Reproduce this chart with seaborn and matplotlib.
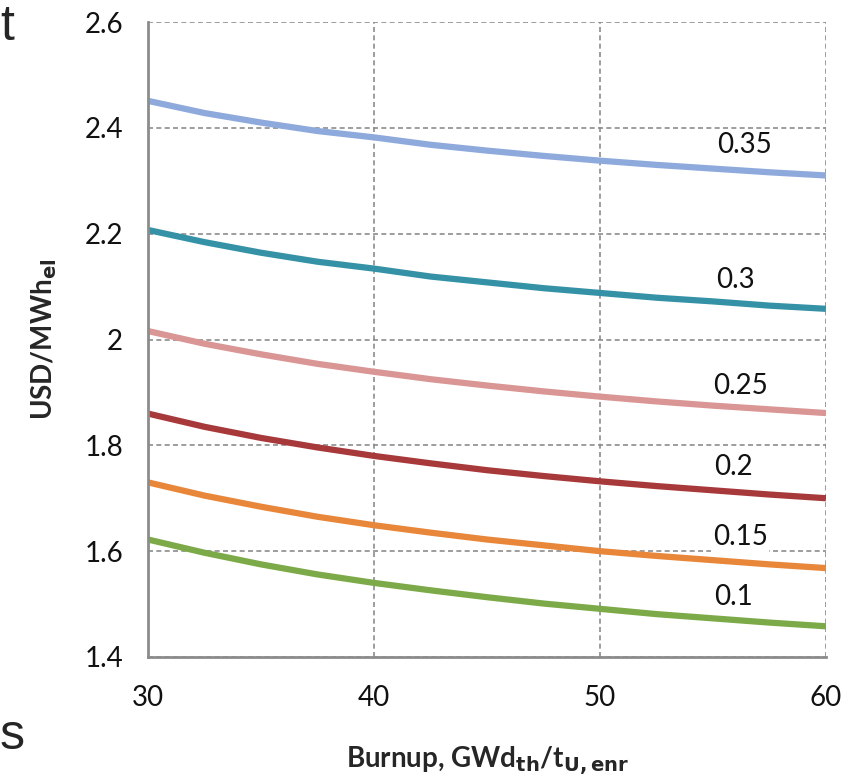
import numpy as np
import pandas as pd
import seaborn as sns
import matplotlib
matplotlib.use("Agg")
import matplotlib.pyplot as plt

# burnup, GWd/t
burnup = [30, 32.5, 35, 37.5, 40, 42.5, 45, 47.5, 50, 52.5, 55, 57.5, 60]

# cost curves, USD/MWh_el, one per parameter value
cost_035 = [2.451, 2.428, 2.410, 2.394, 2.382, 2.368, 2.357, 2.347, 2.338, 2.330, 2.323, 2.316, 2.310]
cost_030 = [2.207, 2.184, 2.164, 2.147, 2.134, 2.119, 2.108, 2.097, 2.088, 2.079, 2.072, 2.064, 2.058]
cost_025 = [2.016, 1.992, 1.972, 1.954, 1.939, 1.925, 1.913, 1.902, 1.892, 1.883, 1.875, 1.868, 1.861]
cost_020 = [1.860, 1.835, 1.814, 1.796, 1.780, 1.766, 1.753, 1.742, 1.732, 1.723, 1.715, 1.707, 1.700]
cost_015 = [1.730, 1.705, 1.684, 1.665, 1.649, 1.635, 1.622, 1.611, 1.600, 1.591, 1.583, 1.575, 1.568]
cost_010 = [1.622, 1.597, 1.575, 1.556, 1.540, 1.526, 1.513, 1.501, 1.491, 1.481, 1.473, 1.465, 1.458]

series_labels = ["0.35", "0.3", "0.25", "0.2", "0.15", "0.1"]
series_values = [cost_035, cost_030, cost_025, cost_020, cost_015, cost_010]
series_colors = ["#8EA9DB", "#3592A6", "#D99694", "#A8393B", "#E8863A", "#7DAA48"]

# where the curve labels sit (x, y in data units)
label_x = [56.4, 56.0, 56.2, 55.9, 56.2, 55.9]
label_y = [2.367, 2.112, 1.912, 1.759, 1.627, 1.513]

rows = []
for lab, vals in zip(series_labels, series_values):
    for x, v in zip(burnup, vals):
        rows.append({"burnup": x, "cost": v, "param": lab})
df = pd.DataFrame(rows)

sns.set_style("white")
plt.rcParams["font.family"] = ["Lato", "DejaVu Sans"]

fig = plt.figure(figsize=(8.51, 7.81), dpi=100)
ax = fig.add_axes([0.1739, 0.1588, 0.7967, 0.8130])

palette = dict(zip(series_labels, series_colors))
sns.lineplot(data=df, x="burnup", y="cost", hue="param", palette=palette,
             linewidth=4.5, legend=False, ax=ax)
for line in ax.lines:
    line.set_solid_capstyle("butt")

ax.set_xlim(30, 60)
ax.set_ylim(1.4, 2.6)
ax.set_xticks([30, 40, 50, 60])
ax.set_yticks([1.4, 1.6, 1.8, 2.0, 2.2, 2.4, 2.6])
ax.set_yticklabels(["1.4", "1.6", "1.8", "2", "2.2", "2.4", "2.6"])

ax.grid(True, linestyle=(0, (3, 2)), color="#8c8c8c", linewidth=1.2)
ax.set_axisbelow(True)
for side in ["top", "right"]:
    ax.spines[side].set_visible(False)
for side in ["left", "bottom"]:
    ax.spines[side].set_color("#8c8c8c")
    ax.spines[side].set_linewidth(2)

ax.tick_params(axis="both", which="major", direction="inout", length=12,
               width=1.5, color="#8c8c8c", labelsize=20, labelcolor="#111111")
ax.tick_params(axis="y", pad=12)
ax.tick_params(axis="x", pad=14)

for lab, x, y in zip(series_labels, label_x, label_y):
    ax.text(x, y, lab, fontsize=20, ha="center", va="center", color="#111111",
            bbox=dict(facecolor="white", edgecolor="none", pad=1.5))

ax.set_xlabel(r"Burnup, GWd$_{\mathbf{th}}$/t$_{\mathbf{U,enr}}$",
              fontsize=20, fontweight="bold", labelpad=24)
ax.set_ylabel(r"USD/MWh$_{\mathbf{el}}$", fontsize=20, fontweight="bold", labelpad=18)

# leftover slide text at the edge of the crop
fig.text(0.0, 0.965, "t", fontsize=36, family="Liberation Sans", va="center")
fig.text(0.0, 0.058, "s", fontsize=36, family="Liberation Sans", va="center")

fig.savefig("out.png", dpi=100)
